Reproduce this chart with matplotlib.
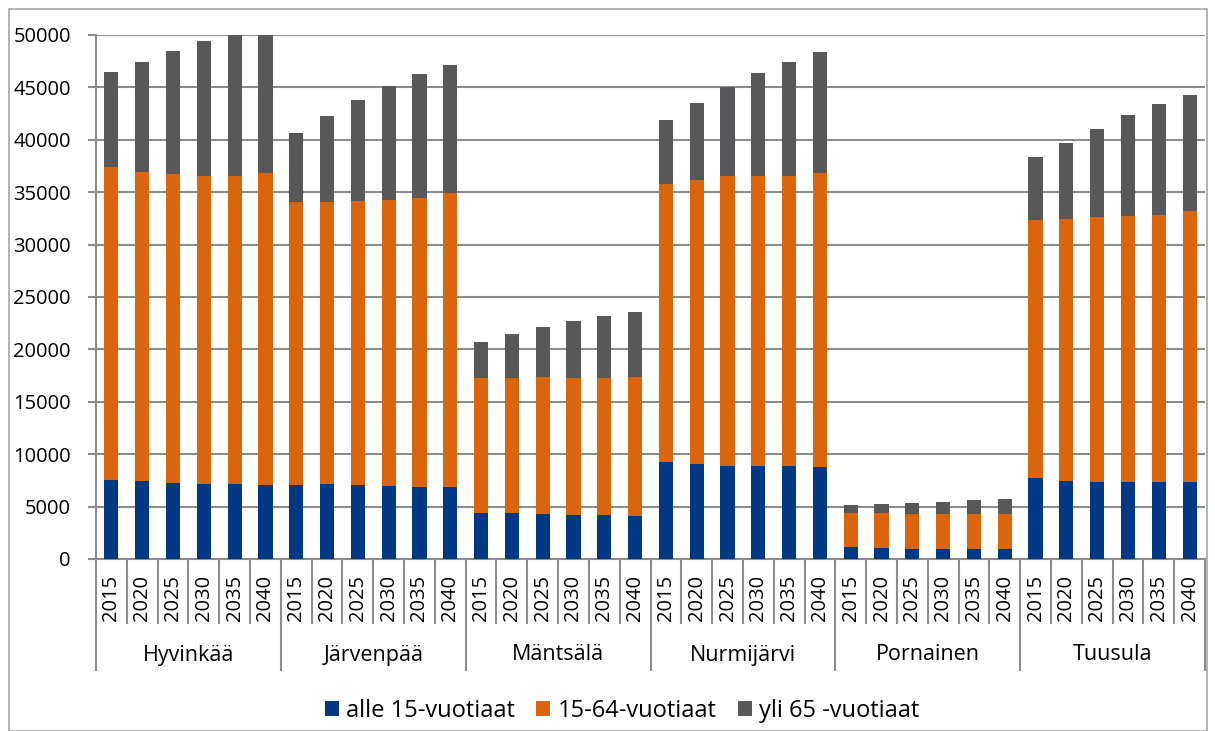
import matplotlib
matplotlib.use("Agg")
import matplotlib.pyplot as plt
from matplotlib.patches import Patch, Rectangle
import numpy as np

plt.rcParams['font.family'] = ['Open Sans', 'DejaVu Sans']

municipalities = ["Hyvinkää", "Järvenpää", "Mäntsälä", "Nurmijärvi", "Pornainen", "Tuusula"]
years = ["2015", "2020", "2025", "2030", "2035", "2040"]
series_names = ["alle 15-vuotiaat", "15-64-vuotiaat", "yli 65 -vuotiaat"]

under15 = [7540, 7470, 7250, 7160, 7160, 7100,
           7060, 7130, 7030, 6920, 6890, 6850,
           4360, 4360, 4270, 4170, 4170, 4140,
           9210, 9050, 8880, 8850, 8850, 8780,
           1120, 1030, 960, 930, 930, 930,
           7710, 7450, 7320, 7320, 7360, 7320]
age15_64 = [29830, 29490, 29450, 29340, 29340, 29700,
            27000, 26900, 27140, 27320, 27560, 28080,
            12900, 12930, 13120, 13120, 13120, 13220,
            26550, 27100, 27670, 27730, 27700, 28060,
            3300, 3330, 3370, 3360, 3360, 3360,
            24680, 24970, 25360, 25450, 25510, 25900]
over65 = [9130, 10500, 11800, 12900, 13900, 14500,
          6580, 8210, 9630, 10920, 11830, 12220,
          3440, 4140, 4710, 5390, 5890, 6240,
          6120, 7400, 8520, 9770, 10920, 11580,
          710, 860, 1020, 1190, 1320, 1480,
          5990, 7290, 8370, 9550, 10570, 11080]

colors = ["#003883", "#DB650D", "#58585A"]

W, H = 1215, 731
fig = plt.figure(figsize=(W / 100, H / 100), dpi=100)
fig.patches.append(Rectangle((9 / W, 0), 1198 / W, 1 - 9 / H, transform=fig.transFigure,
                             fill=False, edgecolor="#A6A6A6", linewidth=1.2, zorder=0))

ax = fig.add_axes([96 / W, 1 - 559 / H, (1205 - 96) / W, (559 - 35) / H])

n = len(municipalities) * len(years)
x = np.arange(n) + 0.5
u = np.array(under15)
m = np.array(age15_64)
o = np.array(over65)
bw = 0.46
ax.bar(x, u, bw, color=colors[0], label=series_names[0], zorder=3)
ax.bar(x, m, bw, bottom=u, color=colors[1], label=series_names[1], zorder=3)
ax.bar(x, o, bw, bottom=u + m, color=colors[2], label=series_names[2], zorder=3)

ax.set_xlim(0, n)
ax.set_ylim(0, 50000)
ax.set_yticks(np.arange(0, 50001, 5000))
ax.yaxis.grid(True, color="#8C8C8C", linewidth=1.5, zorder=0)
ax.set_axisbelow(True)
ax.tick_params(axis='y', length=6, width=1.5, color="#8C8C8C", labelsize=14.5, pad=12,
               labelcolor="black")
ax.set_xticks([])
for s in ["top", "right"]:
    ax.spines[s].set_visible(False)
ax.spines["left"].set_color("#8C8C8C")
ax.spines["left"].set_linewidth(1.5)
ax.spines["bottom"].set_color("#8C8C8C")
ax.spines["bottom"].set_linewidth(1.5)

trans = ax.get_xaxis_transform()
year_sep = -64 / 524
group_sep = -111 / 524
for i in range(n + 1):
    bottom_y = group_sep if i % len(years) == 0 else year_sep
    ax.plot([i, i], [0, bottom_y], transform=trans, color="#8C8C8C", linewidth=1.5,
            clip_on=False)
for i in range(n):
    ax.text(i + 0.5, -39 / 524, years[i % len(years)], transform=trans, rotation=90,
            ha="center", va="center", fontsize=14.5)
for g, name in enumerate(municipalities):
    ax.text(g * len(years) + len(years) / 2, -96 / 524, name, transform=trans,
            ha="center", va="center", fontsize=15.5)

handles = [Patch(facecolor=c, label=l) for c, l in zip(colors, series_names)]
fig.legend(handles=handles, loc="center", bbox_to_anchor=(622 / W, 1 - 711 / H), ncol=3,
           frameon=False, fontsize=17, handlelength=0.6, handleheight=0.6,
           handletextpad=0.3, columnspacing=0.9, borderpad=0.2)

fig.savefig("out.png", dpi=100)
